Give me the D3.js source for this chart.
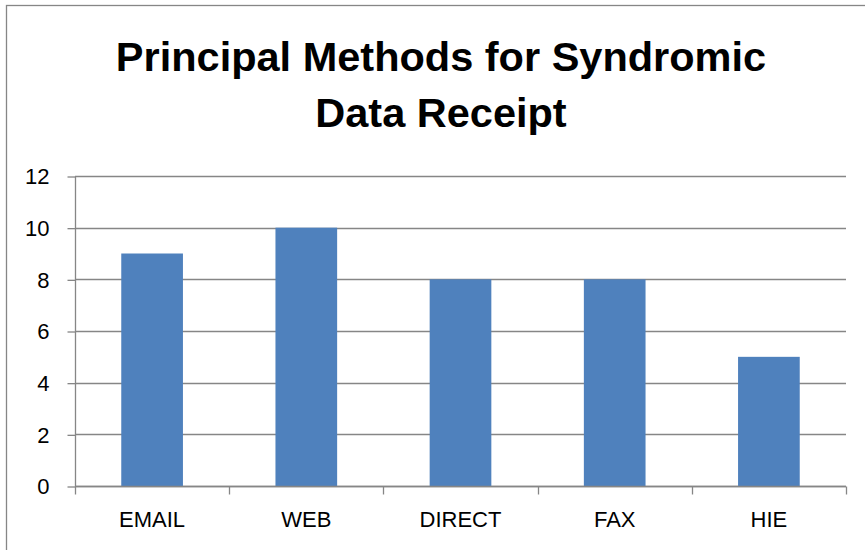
<!DOCTYPE html>
<html>
<head>
<meta charset="utf-8">
<script src="https://cdn.jsdelivr.net/npm/d3@7"></script>
<style>
  html, body { margin: 0; padding: 0; background: #fff; }
  svg { display: block; }
</style>
</head>
<body>
<svg id="chart" width="865" height="550"></svg>
<script>
const categories = ["EMAIL", "WEB", "DIRECT", "FAX", "HIE"];
const values = [9, 10, 8, 8, 5];
const yTicks = [0, 2, 4, 6, 8, 10, 12];
const titleLines = ["Principal Methods for Syndromic", "Data Receipt"];

const svg = d3.select("#chart");
const W = 865, H = 550;
const plot = { left: 75, right: 846, top: 176, bottom: 486 };
const font = "'Liberation Sans', Arial, sans-serif";

// outer chart border (left and top visible)
svg.append("rect")
  .attr("x", 6.5).attr("y", 5.5)
  .attr("width", W + 10).attr("height", H + 10)
  .attr("fill", "#fff").attr("stroke", "#868686").attr("stroke-width", 1.3);

// title
svg.append("g").selectAll("text")
  .data(titleLines)
  .join("text")
  .attr("x", 441)
  .attr("y", (d, i) => 71 + i * 56)
  .attr("text-anchor", "middle")
  .attr("font-family", font)
  .attr("font-weight", "bold")
  .attr("font-size", 41.5)
  .attr("fill", "#000")
  .text(d => d);

const x = d3.scaleBand()
  .domain(categories)
  .range([plot.left, plot.right])
  .paddingInner(0.6)
  .paddingOuter(0.3);

const xOuter = d3.scaleBand()
  .domain(categories)
  .range([plot.left, plot.right])
  .padding(0);

const y = d3.scaleLinear()
  .domain([0, 12])
  .range([plot.bottom, plot.top]);

// gridlines
svg.append("g").selectAll("line")
  .data(yTicks)
  .join("line")
  .attr("x1", plot.left).attr("x2", plot.right)
  .attr("y1", d => Math.round(y(d)) + 0.5).attr("y2", d => Math.round(y(d)) + 0.5)
  .attr("stroke", "#868686").attr("stroke-width", 1.3);

// y axis
const yAxis = d3.axisLeft(y).tickValues(yTicks).tickSize(8).tickPadding(18).tickFormat(d3.format("d"));
const gy = svg.append("g").attr("transform", `translate(${plot.left + 0.5},0.5)`).call(yAxis);
gy.select(".domain").attr("stroke", "#868686").attr("stroke-width", 1.3).attr("d", `M0,${plot.top}V${plot.bottom}`);
gy.selectAll(".tick line").attr("stroke", "#868686").attr("stroke-width", 1.3);
gy.selectAll(".tick text")
  .attr("font-family", font).attr("font-size", 22).attr("fill", "#000").attr("dy", "0.34em");

// bars
svg.append("g").selectAll("rect")
  .data(values)
  .join("rect")
  .attr("x", (d, i) => x(categories[i]))
  .attr("width", x.bandwidth())
  .attr("y", d => y(d))
  .attr("height", d => y(0) - y(d))
  .attr("fill", "#4F81BD");

// x axis
const xAxis = d3.axisBottom(xOuter).tickSize(0).tickPadding(25);
const gx = svg.append("g").attr("transform", `translate(0,${plot.bottom + 0.5})`).call(xAxis);
gx.select(".domain").attr("stroke", "#868686").attr("stroke-width", 1.3).attr("d", `M${plot.left},0H${plot.right}`);
gx.selectAll(".tick text")
  .attr("font-family", font).attr("font-size", 22).attr("fill", "#000");

// category boundary tick marks
const bounds = categories.map(c => xOuter(c)).concat([plot.right]);
gx.append("g").selectAll("line")
  .data(bounds)
  .join("line")
  .attr("x1", d => Math.round(d) + 0.5).attr("x2", d => Math.round(d) + 0.5)
  .attr("y1", 0).attr("y2", 8)
  .attr("stroke", "#868686").attr("stroke-width", 1.3);
</script>
</body>
</html>
